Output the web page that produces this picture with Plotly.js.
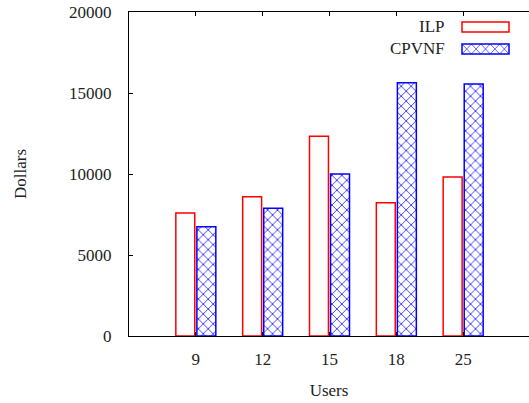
<!DOCTYPE html>
<html>
<head>
<meta charset="utf-8">
<script src="https://cdn.plot.ly/plotly-3.0.1.min.js"></script>
<style>html,body{margin:0;padding:0;background:#fff;}#chart{width:529px;height:403px;}</style>
</head>
<body>
<div id="chart"></div>
<script>
var users = ['9', '12', '15', '18', '25'];
var ilp = [7600, 8600, 12330, 8230, 9810];
var cpvnf = [6750, 7880, 10000, 15640, 15560];
var yTicks = [0, 5000, 10000, 15000, 20000];
var seriesNames = ['ILP', 'CPVNF'];

var FONT = 'Liberation Serif, Times New Roman, serif';
var W = 529, H = 403, L = 129, R = 0, T = 12, B = 67;
var pw = W - L - R, ph = H - T - B;
function px2x(p) { return (p - L) / pw; }
function py2y(p) { return (H - B - p) / ph; }

var traces = [
  {
    type: 'bar', name: seriesNames[0], x: users, y: ilp,
    marker: {color: 'rgba(255,255,255,0)', line: {color: '#ff0000', width: 1.5}},
    showlegend: false, hoverinfo: 'skip'
  },
  {
    type: 'bar', name: seriesNames[1], x: users, y: cpvnf,
    marker: {color: '#ffffff', line: {color: '#0000ff', width: 1.5},
      pattern: {shape: 'x', fgcolor: '#0000ff', bgcolor: '#ffffff', size: 7, solidity: 0.2}},
    showlegend: false, hoverinfo: 'skip'
  }
];

// legend swatches (drawn as shapes, text on left like the original)
var shapes = [];
var sx0 = 462, sx1 = 509;
shapes.push({type: 'rect', xref: 'paper', yref: 'paper',
  x0: px2x(sx0), x1: px2x(sx1), y0: py2y(32), y1: py2y(22),
  line: {color: '#ff0000', width: 1.5}, fillcolor: 'rgba(0,0,0,0)'});
// hatched swatch
var hy0 = 44, hy1 = 54, n = 5, per = (sx1 - sx0) / n;
var path = '';
for (var k = 0; k < n; k++) {
  var a = sx0 + k * per, b = a + per;
  path += 'M' + px2x(a) + ',' + py2y(hy0) + 'L' + px2x(b) + ',' + py2y(hy1) + ' ';
  path += 'M' + px2x(a) + ',' + py2y(hy1) + 'L' + px2x(b) + ',' + py2y(hy0) + ' ';
}
shapes.push({type: 'path', xref: 'paper', yref: 'paper', path: path,
  line: {color: 'rgba(0,0,255,0.6)', width: 1}});
shapes.push({type: 'rect', xref: 'paper', yref: 'paper',
  x0: px2x(sx0), x1: px2x(sx1), y0: py2y(hy1), y1: py2y(hy0),
  line: {color: '#0000ff', width: 1.5}, fillcolor: 'rgba(0,0,0,0)'});

var annotations = [
  {text: seriesNames[0], xref: 'paper', yref: 'paper', x: px2x(447), y: py2y(27),
   xanchor: 'right', yanchor: 'middle', showarrow: false, font: {family: FONT, size: 17, color: '#222'}},
  {text: seriesNames[1], xref: 'paper', yref: 'paper', x: px2x(447), y: py2y(49),
   xanchor: 'right', yanchor: 'middle', showarrow: false, font: {family: FONT, size: 17, color: '#222'}}
];

var layout = {
  width: W, height: H,
  margin: {l: L, r: R, t: T, b: B, pad: 0},
  paper_bgcolor: '#fff', plot_bgcolor: '#fff',
  barmode: 'group', bargap: 0.37, bargroupgap: 0.1,
  showlegend: false,
  font: {family: FONT, size: 17, color: '#222'},
  xaxis: {
    type: 'category', range: [-1, 4.985],
    showline: true, linecolor: '#000', linewidth: 1.2, mirror: 'ticks',
    ticks: 'inside', ticklen: 4, tickcolor: '#000', tickwidth: 1,
    showgrid: false, zeroline: false, ticklabelstandoff: 7,
    tickfont: {family: FONT, size: 17, color: '#222'},
    title: {text: 'Users', font: {family: FONT, size: 17, color: '#222'}, standoff: 16}
  },
  yaxis: {
    range: [0, 20000], tickvals: yTicks, ticktext: yTicks.map(String),
    showline: true, linecolor: '#000', linewidth: 1.2, mirror: false,
    ticks: 'inside', ticklen: 4, tickcolor: '#000', tickwidth: 1,
    showgrid: false, zeroline: false, ticklabelstandoff: 13,
    tickfont: {family: FONT, size: 17, color: '#222'},
    title: {text: 'Dollars', font: {family: FONT, size: 17, color: '#222'}, standoff: 38}
  },
  yaxis2: {
    overlaying: 'y', side: 'right', range: [0, 20000], tickvals: yTicks,
    showticklabels: false, showline: false, ticks: 'inside', ticklen: 4,
    tickcolor: '#000', tickwidth: 1, showgrid: false, zeroline: false
  },
  shapes: shapes,
  annotations: annotations
};

Plotly.newPlot('chart', traces, layout, {staticPlot: true, displayModeBar: false});
</script>
</body>
</html>
